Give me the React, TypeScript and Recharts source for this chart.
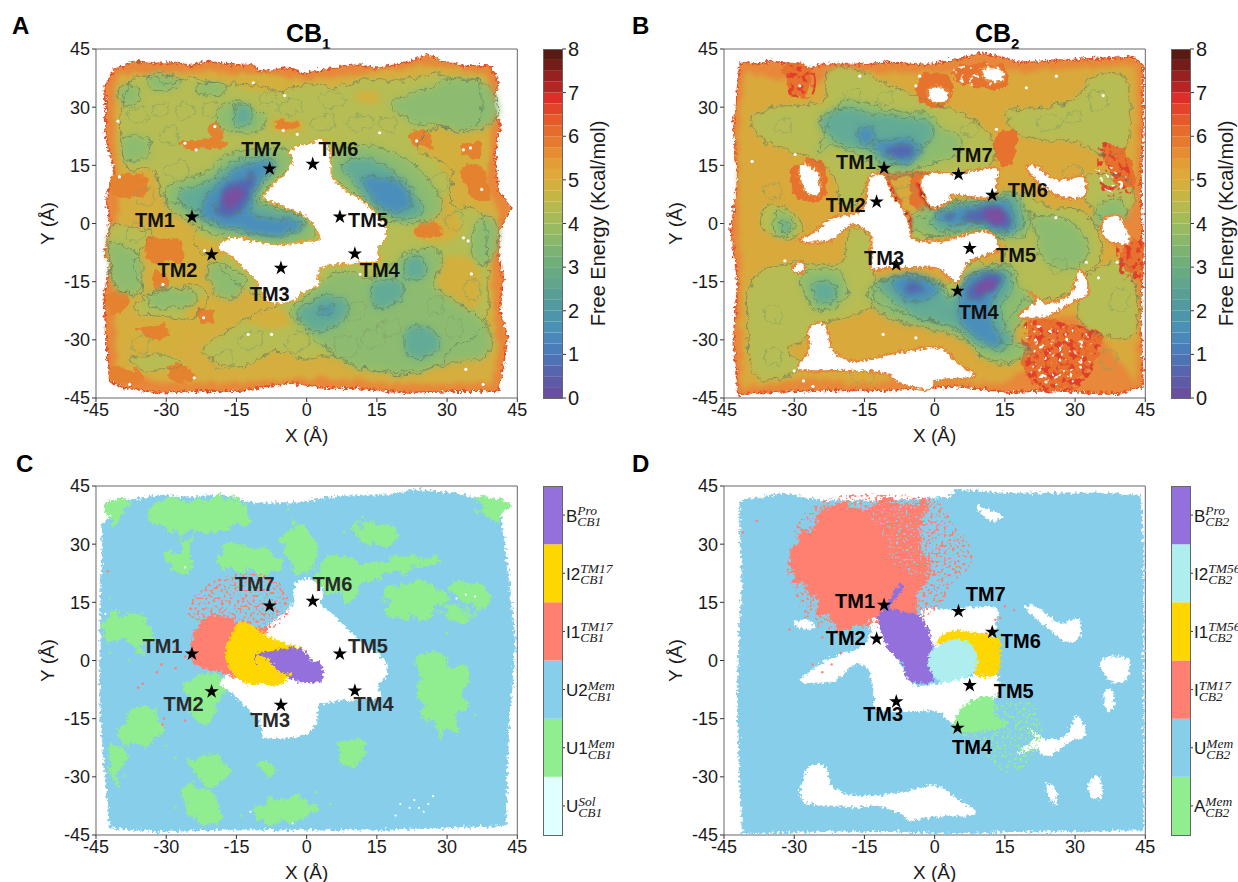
import { Bar, BarChart, ReferenceArea, Scatter, ScatterChart, XAxis, YAxis, ZAxis } from 'recharts';

type Pair = [number, number];
type Layer = { poly: Pair[]; fill: string; filter?: string; line?: string; edge?: string; edgeWidth?: number; dash?: string; sharp?: boolean };

const FONT = '"Liberation Sans", Arial, sans-serif';
const axisTicks = [-45, -30, -15, 0, 15, 30, 45];

// free energy colour levels, bottom to top of the colour bar (0 to 8 in 0.25 steps)
const levelColors = ['#68509f', '#5f5aa6', '#5665ae', '#4f72b5', '#4a7dba', '#4a88bb', '#4a91b5', '#4d96aa', '#5399a0', '#5a9f96', '#60a58c', '#68aa82', '#70af7a', '#7db372', '#8ab76a', '#98ba60', '#a6bb58', '#b5b94e', '#c5b644', '#d3b03e', '#dea83a', '#e39d37', '#e68c33', '#e67a2f', '#e66c2d', '#e45a2b', '#e34429', '#de2e27', '#b82424', '#962120', '#741c17', '#581a13'];
const levelStep = 0.25;
const energyTicks = [0, 1, 2, 3, 4, 5, 6, 7, 8];

const stateTicks = [0.5, 1.5, 2.5, 3.5, 4.5, 5.5];
const cb1States = [
  { base: 'U', sup: 'Sol', sub: 'CB1', color: '#e0ffff' },
  { base: 'U1', sup: 'Mem', sub: 'CB1', color: '#90ee90' },
  { base: 'U2', sup: 'Mem', sub: 'CB1', color: '#87ceeb' },
  { base: 'I1', sup: 'TM17', sub: 'CB1', color: '#ff8070' },
  { base: 'I2', sup: 'TM17', sub: 'CB1', color: '#ffd700' },
  { base: 'B', sup: 'Pro', sub: 'CB1', color: '#9370db' },
];
const cb2States = [
  { base: 'A', sup: 'Mem', sub: 'CB2', color: '#90ee90' },
  { base: 'U', sup: 'Mem', sub: 'CB2', color: '#87ceeb' },
  { base: 'I', sup: 'TM17', sub: 'CB2', color: '#ff8070' },
  { base: 'I1', sup: 'TM56', sub: 'CB2', color: '#ffd700' },
  { base: 'I2', sup: 'TM56', sub: 'CB2', color: '#afeeee' },
  { base: 'B', sup: 'Pro', sub: 'CB2', color: '#9370db' },
];

// helix positions
const cb1Stars: Pair[] = [[-24.5, 1.7], [-20.3, -8], [-5.5, -11.5], [10.3, -7.8], [7.1, 1.7], [1.3, 15.3], [-7.9, 14.1]];
const cb2Stars: Pair[] = [[-10.8, 14.3], [-12.4, 5.6], [-8.2, -10.6], [4.9, -17.4], [7.5, -6.4], [12.3, 7.3], [5.1, 12.7]];
const tmNames = ['TM1', 'TM2', 'TM3', 'TM4', 'TM5', 'TM6', 'TM7'];
const aLabelPos: Pair[] = [[-32.4, 0.9], [-27.6, -12.1], [-7.9, -18.3], [15.6, -12.1], [13.1, 0.9], [6.8, 19.1], [-9.7, 19.1]];
const bLabelPos: Pair[] = [[-16.8, 15.9], [-19, 4.7], [-10.8, -8.8], [9.4, -22.9], [17.4, -8.1], [19.9, 8.6], [8.1, 17.6]];
const cLabelPos: Pair[] = [[-30.8, 3.7], [-26.3, -11.3], [-7.8, -15.4], [14.3, -11.3], [13.1, 3.7], [5.5, 19.7], [-11.1, 19.7]];
const dLabelPos: Pair[] = [[-17, 15.3], [-19, 5.7], [-11, -13.9], [8, -22.4], [16.9, -7.8], [18.4, 5], [10.9, 17.1]];

// ---- panel A landscape, outlines in Angstrom
const aOuter: Pair[] = [[-41, 40], [-39, 40.5], [-37, 42], [-32, 41.2], [-27, 41.5], [-25, 40.5], [-21.5, 41.8], [-16, 41], [-11.5, 41], [-10, 39], [-3.6, 40.2], [-0.8, 38.5], [5, 40], [10, 41], [15, 40], [21.3, 41.5], [26, 43.6], [28.5, 42], [34, 40.6], [39, 40.6], [41, 36.7], [39.8, 30.7], [41.3, 25.6], [40.2, 17.8], [41, 8.4], [43.8, 4], [41, -1.9], [41, -8.8], [42, -14], [41.3, -22.6], [43, -29.5], [42, -36.4], [41, -43.2], [32, -43.2], [21.3, -43.7], [10.6, -42.4], [3.5, -42.4], [-3.6, -41], [-14.3, -43.2], [-25, -43.2], [-31.4, -43.7], [-38.6, -42.4], [-42, -40.7], [-42.8, -31.2], [-43.2, -19.2], [-42.1, -10.6], [-43.2, -8], [-42, -0.2], [-42.8, 6.6], [-41, 13.5], [-42.9, 22], [-42.9, 31.6], [-43.2, 35]];
const aYellow: Pair[] = [[-40, 38.5], [-25, 39], [-11, 38.5], [0, 37], [12, 38.5], [26, 41], [38.5, 38.5], [38.5, 30], [39.5, 25], [38.5, 8], [41, 3], [39.5, -9], [40, -23], [41, -32], [39.5, -41], [21, -41.5], [3.5, -40], [-14, -41], [-30, -41], [-40.5, -39], [-41, -19], [-40.5, 0], [-40.5, 14], [-41, 22], [-41, 35]];
const aLightMain: Pair[] = [[-38, 36], [-34, 38], [-30, 36], [-25, 37.5], [-18, 36], [-11, 36], [-6, 34], [0, 36], [6, 35], [12, 37], [20, 37], [27, 38.5], [33, 37], [37, 36], [37, 27], [33, 24], [27, 24.5], [24, 19], [31, 14], [31, 5], [37, 3], [38.5, -9], [38, -26], [31, -32], [27, -37], [14, -38], [6, -34], [0, -35], [-7, -33], [-14, -37], [-22, -33], [-12, -24], [-6, -21], [-13, -17], [-20, -10], [-24, -5], [-22, 3], [-30, 6], [-33, 14], [-38, 14], [-40, 25]];
const aLightLeft: Pair[] = [[-42, -1], [-37, -1], [-33, -3], [-37, -10], [-35, -18], [-40, -17], [-42, -10]];
const aLightLow: Pair[] = [[-35, -19], [-24, -16], [-21, -19], [-24, -24], [-30, -24], [-36, -23]];
const aLightBottom: Pair[] = [[-38, -35], [-30, -34], [-27, -37], [-34, -38]];
const aYellowPatches: Pair[][] = [
  [[27, 24], [37, 24], [38, 13], [32, 11], [28, 15]],
  [[25, 3], [30, 7], [33, -1], [29, -5], [23, -3]],
  [[29, -9], [36, -10], [37, -20], [31, -25], [28, -16]],
  [[-34, -3], [-25, -3], [-19, -5], [-18, -10], [-23, -11], [-25, -18], [-31, -19], [-33, -11]],
  [[-10, -21], [-3, -24], [-6, -27], [-13, -25]],
  [[-25, -19], [-18, -21], [-17, -27], [-25, -28]],
  [[-38, -27], [-28, -26], [-27, -31], [-33, -33]],
  [[-14, 38], [-5, 37], [-6, 34], [-13, 35]],
  [[11, 34], [15, 34], [15, 31], [11, 31.5]],
  [[-7, 27], [-1, 26], [-2, 23], [-7, 24]],
];
const aOrangePatches: Pair[][] = [
  [[-34, -4], [-31, -3.5], [-27, -5], [-26.5, -9], [-30, -10], [-34, -9]],
  [[-33, -13], [-30, -13], [-29.5, -17], [-32, -17.5]],
  [[-23, -22], [-20.5, -22], [-20, -25.5], [-23, -25]],
  [[-36, -27], [-31, -26], [-29, -28.5], [-33, -30]],
  [[-30, -37], [-26, -36.5], [-24, -40], [-28, -41]],
  [[-21, 26], [-18.5, 26], [-18, 22], [-20.5, 22.5]],
  [[-27, 21], [-19, 22], [-17, 20], [-25, 19]],
  [[22, 23], [26, 24], [26.5, 20], [23, 20]],
  [[33, 20], [37, 21], [37.5, 17], [34, 17.5]],
  [[33, 14], [38, 14], [39, 6], [35, 7]],
  [[23.4, -0.5], [27, 0.5], [29, -3], [24, -3.5]],
  [[-6.5, 26.5], [-2, 26], [-2.5, 24.5], [-6.5, 24.5]],
  [[0.6, 17.4], [5, 17.5], [4, 15], [1.5, 15]],
  [[-41.5, 12], [-34.5, 12.5], [-34.5, 7.5], [-41, 7]],
  [[-42.5, -17.5], [-38.5, -18], [-39, -22.5], [-42, -23]],
  [[-42, -37], [-36, -38], [-35, -41], [-41, -41]],
];
const aGreen: Pair[][] = [
  [[-33.5, 38.5], [-28, 38], [-27.5, 35], [-33, 34.5]],
  [[-40, 35], [-36, 35], [-36, 31], [-40, 31]],
  [[-23, 36], [-18, 36], [-18, 33], [-23, 33.3]],
  [[-18.6, 30], [-14, 31.5], [-9.4, 28], [-10, 24], [-16, 23.5], [-19, 26]],
  [[-39, 22], [-34, 22], [-34, 17], [-39, 17]],
  [[-29, 10], [-22, 13], [-16.5, 18], [-11, 19], [-4, 19], [-3, 15], [-5.7, 12], [-8.5, 8.5], [-10, 6], [-5, 4], [0, 1.5], [2, -2], [-0.5, -5], [-7.5, -6], [-15, -4], [-19, -3], [-24.5, 0], [-30, 5]],
  [[5, 17], [10, 20], [17, 19], [23, 15], [28, 8], [28, 2], [21, 0], [16, 2], [12, 6], [8, 10], [5, 13]],
  [[18, 31], [25, 34.5], [32, 37.5], [39, 35], [40.5, 27], [34, 23.5], [27, 25.5], [22, 26.5]],
  [[-41.5, -5], [-37, -7], [-35, -11], [-36, -17.5], [-40.5, -17], [-42, -11]],
  [[-33, -17.5], [-25, -17], [-24, -21], [-33, -21.5]],
  [[3.5, -14], [9, -12.5], [14, -14], [21, -8], [27, -6.5], [29, -10], [27.5, -16], [33.5, -21.5], [39, -27.5], [38.5, -34], [29, -36.5], [21, -39], [10.6, -37], [3.5, -31.5], [-0.5, -27], [-3.5, -22.6], [1, -18]],
  [[36, -0.5], [39.5, 2], [41, -5], [38, -10.5], [35.5, -7.5]],
  [[-21, -10.5], [-16, -11.5], [-13, -15], [-16, -19.5], [-20, -17]],
];
const aTeal: Pair[][] = [
  [[-1, -21.5], [3.5, -18.5], [8.5, -20], [8, -25], [2, -28], [-2, -24]],
  [[22, -27], [26, -27], [28.5, -30], [27, -34], [22, -34.5], [21, -30]],
  [[14.5, -15], [20, -15], [20.5, -19], [16, -22], [14, -19]],
  [[21.5, -9], [25, -9], [25, -14], [21, -14]],
  [[-15.5, 30], [-12, 30], [-12.5, 25.5], [-15, 25]],
  [[-27, 8.5], [-21, 11], [-15.5, 16], [-9, 17], [-6, 15], [-9, 10.5], [-10.5, 5], [-2, 2.5], [-0.5, -1], [-6, -3.5], [-15, -2], [-21.5, 0.5], [-26.5, 4.5]],
  [[7.5, 15], [13, 17], [19.5, 12.5], [24.5, 5.5], [24.5, 2.5], [19, 1.5], [14, 5], [10, 10]],
];
const aBlue: Pair[][] = [
  [[-22.5, 3.2], [-20, 9], [-15, 14], [-9, 16], [-7.5, 14.5], [-10.5, 9.5], [-11.5, 2.5], [-1.5, 0.5], [-2, -1.5], [-8.5, -3], [-16.5, -0.5], [-22, 1.5]],
  [[12, 12], [17, 11.5], [20, 10.5], [22, 7], [22, 4], [18, 3], [14, 6.5]],
  [[2, -23], [3.5, -21.5], [6, -20.5], [6, -22.5], [4, -24]],
];
const aIndigo: Pair[][] = [[[-19.5, 4], [-17, 10], [-13, 11.5], [-11.5, 13.5], [-11.5, 10], [-13.5, 4], [-16.5, 1.5], [-19, 2.5]]];
const aPurple: Pair[][] = [[[-17.5, 6.5], [-15.7, 9], [-13.6, 9], [-14.3, 5.7], [-16.4, 4]]];
const aLoops: Pair[][] = [
  [[-38, 29], [-35, 30], [-34, 27], [-37, 26]], [[-28, 30], [-25, 31], [-24, 28], [-27, 27]], [[-31, 24], [-28, 25], [-28, 21], [-31, 21]],
  [[-22, 31], [-19, 31], [-19, 28], [-22, 28]], [[-6, 31], [-2, 32], [-1, 29], [-5, 28]], [[3, 33], [7, 34], [8, 31], [4, 30]],
  [[9, 27], [13, 28], [14, 25], [10, 24]], [[16, 27], [19, 27], [19, 24], [16, 24]], [[1, 27], [5, 28], [6, 25], [2, 24]],
  [[-30, 15], [-26, 16], [-25, 12], [-29, 12]], [[-36, 8], [-33, 9], [-33, 5], [-36, 5]], [[-38, -1], [-35, 0], [-35, -4], [-38, -4]],
  [[30, 2], [33, 3], [33, -1], [30, -1]], [[34, -15], [37, -15], [37, -19], [34, -19]], [[30, -25], [33, -25], [33, -29], [30, -29]],
  [[12, -28], [16, -27], [17, -31], [13, -32]], [[6, -30], [10, -29], [11, -33], [7, -34]], [[-4, -29], [0, -28], [0, -32], [-4, -33]],
  [[-14, -29], [-10, -28], [-10, -32], [-14, -32]], [[-20, -34], [-16, -33], [-16, -37], [-20, -37]], [[-37, -30], [-34, -29], [-34, -33], [-37, -33]],
  [[9, -21], [12, -20], [12, -24], [9, -25]], [[15, -26], [19, -25], [20, -28], [16, -29]], [[26, -20], [29, -19], [29, -23], [26, -23]],
  [[27, 12], [30, 13], [30, 9], [27, 9]], [[-10, 33], [-7, 34], [-7, 31], [-10, 31]], [[-33, 30], [-30, 31], [-30, 28], [-33, 28]],
];
const aHole: Pair[] = [[-0.8, 20.4], [1.5, 21], [3.5, 21.9], [4.9, 18.7], [5.2, 14.8], [5.6, 11.8], [8.5, 8.3], [12, 5.8], [14.9, 2.3], [17, -0.3], [16.7, -4.6], [15.2, -6.3], [15.2, -9.7], [11.3, -10.2], [8.5, -10.6], [4.2, -11], [2.4, -13.2], [2.8, -15.8], [-0.8, -17.9], [-2.9, -20], [-7.9, -20.5], [-10.8, -14.9], [-14.4, -10.6], [-16.8, -8], [-19, -6.7], [-17.9, -4.6], [-15.1, -3.5], [-10.8, -4.6], [-6.5, -5.4], [-2.2, -5], [0.6, -4.6], [2.8, -3.7], [1.3, -0.3], [-0.8, 2.3], [-4.4, 4], [-8.6, 6.2], [-9, 7.5], [-6.5, 10.9], [-4.4, 13.1], [-3, 16.5], [-3.7, 18.7]];
const aSpecks: Pair[] = [[-26, 20.7], [-19.6, 25], [-23.6, 19], [-4.7, 33], [-11.4, 36.3], [15.6, 23.4], [23.5, 21.3], [33.5, 19], [35, 19.5], [37.4, 8.8], [33.5, -3.7], [34.5, -4.5], [35.2, -13], [-40, 12], [-40.3, 26.4], [-21.8, -7], [-22, -24.3], [-30.7, -15.7], [-12.5, -28.6], [-7.5, -28.6], [34, -37.6], [-24, -39.8], [-37.8, -41.5], [37.7, -41.5], [11.4, -13.1], [-5, 24], [-2, 23]];

// ---- panel B landscape
const bOuter: Pair[] = [[-41.5, 41.5], [-38, 41], [-35, 42], [-31, 41], [-27, 40], [-24, 41], [-17, 41], [-10, 41.5], [-2, 41], [4, 42], [10, 44], [14, 43], [18, 41.5], [25, 42], [35, 42.5], [42, 43], [44.5, 41], [44.5, 25], [44, 10], [44.5, -10], [44, -25], [44.5, -42], [39, -44], [25, -43], [16, -43.5], [5, -42], [-10, -43], [-25, -43], [-35, -43.5], [-42, -44], [-43, -30], [-42, -15], [-43.5, -2], [-42, 12], [-43, 25]];
const bYellow: Pair[] = [[-40.5, 39], [-33, 37], [-27, 35], [-20, 39], [-8, 39], [5, 39], [12, 39], [18, 39], [30, 40], [43, 41], [43.5, 25], [43, 11], [41, 8], [37, 8], [37, -4], [42, -10], [43.5, -22], [43, -41], [36, -30], [31, -24], [23, -24], [19, -30], [20, -37], [14, -41.5], [5, -40.5], [-5, -40], [-15, -41.5], [-28, -40], [-41, -42.5], [-41.5, -25], [-41.5, -10], [-42, 8], [-42, 25]];
const bLight: Pair[][] = [
  [[-39, 27], [-34.5, 30], [-29, 30.5], [-23.5, 32], [-23, 39], [-17, 40], [-12, 37], [-5.5, 33.5], [0, 31], [5.5, 28.5], [11, 24], [13, 19], [10.5, 13.5], [-2, 13], [-10.5, 11.5], [-14, 12], [-16.5, 5], [-20, 5], [-21.5, 12], [-25, 16], [-30.5, 18.5], [-37, 21.5]],
  [[15.5, 29], [23, 30], [30, 32], [34, 38], [41, 37], [41, 20], [35.5, 18], [30, 21], [22, 21.5], [17, 24]],
  [[-37, 1], [-35, 5], [-30, 2.5], [-28.5, -2], [-32, -4], [-36, -2]],
  [[-38.5, -14], [-30.5, -10], [-20, -10], [-18, -1], [-13, -5], [-13, -14], [-13.5, -21], [-18, -24], [-25, -26], [-28, -30], [-31.5, -33], [-28, -37], [-38, -40], [-40, -24]],
  [[-5, -1], [1, 4.5], [11, 6], [18, 8], [25, 4], [32, 3], [36, -7], [32, -13.5], [29, -18], [22, -20], [19, -20], [14, -30], [21, -33], [14, -36.5], [9, -33], [4, -27], [-5, -24], [-13, -20], [-14, -17], [-6, -13], [2, -16], [8, -10], [14, -11], [15, -5], [9, -2], [1, -3], [-5, -4]],
  [[32, 12], [37, 13], [42, 10], [42, 4], [37, 1], [33, 5]],
  [[31, -16], [37, -10], [42, -12], [43, -28], [36, -29], [31, -25]],
];
const bOrange: Pair[][] = [
  [[21, -24], [32, -27], [36, -30], [31, -40], [24, -43], [19, -37], [20, -29]],
  [[-32, 41], [-27, 40], [-27, 33], [-31, 34]],
  [[13, 22], [17, 24], [17, 17], [14, 15]],
  [[36, 20], [41, 18], [43, 9], [38, 12]],
  [[40, -6], [44, -4], [44, -12], [41, -13]],
  [[4, 40], [14, 41], [15, 35], [6, 36]],
  [[-3, 38], [3, 38], [3, 31], [-3, 31]],
  [[-30, 15], [-24, 16], [-24, 6], [-30, 7]],
  [[-11, 13], [-4, 13], [-4, 12], [-9, 11], [-9, 5], [-6, -3], [-9, 2]],
  [[-5, 12], [-1, 13], [0, 4], [-3, 3], [-5, 5]],
];
const bRed: Pair[][] = [
  [[-11, 10.5], [-9, 9], [-7, 5], [-5, 1], [-5, -2], [-6.5, 0], [-9, 3], [-11, 7]],
  [[-3.5, 11], [-2, 11], [-1.5, 7], [1, 4], [-1, 4], [-3, 7]],
];
const bDarkRed: Pair[][] = [
  [[-11, 10], [-10, 9], [-8, 5], [-6, 2], [-6.5, 1], [-9, 4]],
  [[-2.5, 10], [-2, 7], [0, 4.5], [-1, 4.5], [-2.5, 7]],
];
const bGreen: Pair[][] = [
  [[-25.2, 18], [-20, 31], [-15, 31], [-8, 29], [-1, 28], [2, 24], [6, 22], [5, 18], [-2, 15], [-6.5, 13], [-11.5, 14], [-16.5, 18], [-22, 20]],
  [[-6, 0], [-1, 4.5], [11, 7], [17, 8], [20, 3], [19.5, -3], [15.5, -4], [11, -3], [4.5, -3.5], [-1.5, -3]],
  [[-14, -17], [-7, -14], [1, -15], [4, -19], [7.5, -14], [12, -11], [17, -11.5], [18, -16], [21, -20], [17, -29], [20, -32], [16, -35.5], [11, -34.5], [4.5, -29], [-5, -26], [-12, -23]],
  [[35, 5], [39, 6], [41, 2], [37, -1], [34, 0]],
  [[-34, 3], [-31, 2], [-30, -2], [-34, -3]],
  [[-28, -13], [-21, -12], [-18.5, -18], [-24, -23], [-28, -18]],
  [[21, 2], [28, 1], [33, -6], [29, -12], [23, -9], [22, -3]],
];
const bTeal: Pair[][] = [
  [[-24.5, 26.5], [-19, 30], [-12, 28], [-3, 27], [0, 23], [-4, 18], [-8, 15], [-12, 16], [-14, 19], [-20, 20.5]],
  [[-1, 0], [2, 4], [12, 6], [17, 7], [19, 2], [18, -2], [14, -3], [10, -1], [3, -2]],
  [[-12, -16], [-8, -14], [0, -15.5], [3.5, -19], [7, -15], [12, -12], [16, -12], [16.5, -17], [14.5, -21], [15, -27], [17, -30], [14, -33], [9, -31], [4, -26.5], [-5, -23.5]],
  [[-32.5, 1], [-31, 0], [-31, -2], [-33, -2]],
  [[-26, -16], [-22, -15], [-21, -20], [-25, -20]],
];
const bBlue: Pair[][] = [
  [[-16.5, 24], [-14.5, 25], [-13, 24], [-13, 21], [-15.5, 20.5]],
  [[-13, 21], [-8, 22], [-3.5, 21], [-3, 18], [-5.5, 15.5], [-9.5, 16.5], [-12, 18.5]],
  [[0, 2], [3, 3.5], [11, 5], [15, 6], [17, 2], [16.5, -1.5], [13, -2], [9, 0.5], [4, -0.5]],
  [[-9, -15.5], [-6.5, -13], [-2, -14], [1, -17], [-0.5, -19], [-3, -20], [-7, -19]],
  [[5, -22], [6, -15], [9.5, -12.5], [14, -12.5], [14.5, -15.5], [12, -21.5], [13, -27], [14.5, -30], [12, -31.5], [8.5, -29], [5.5, -25]],
];
const bIndigo: Pair[][] = [
  [[-10, 19], [-7, 20.5], [-4.5, 19], [-6, 17.5], [-8.5, 17]],
  [[2.2, 2], [3, 3], [4, 2], [3, 1]],
  [[6, 2], [11.5, 4.5], [15, 3.5], [16, 0], [15, -1.5], [11.5, 0], [7, 0.5]],
  [[-6.5, -16.5], [-4.5, -15], [-2.5, -17], [-4, -18.5], [-6, -18]],
  [[7, -17.5], [10, -13.5], [13.5, -13], [13.5, -15.5], [10.5, -19], [8, -20]],
];
const bPurple: Pair[][] = [
  [[10, 2], [13, 4], [15, 2], [15, -0.5], [12, 0.5]],
  [[8.5, -16.5], [10.5, -14.5], [13, -14], [12.5, -16.5], [10, -18.5]],
];
const bLoops: Pair[][] = [
  [[-34, 26], [-31, 27], [-31, 24], [-34, 24]], [[-36, 10], [-33, 10], [-33, 7], [-36, 7]], [[22, 27], [26, 28], [27, 25], [23, 24]],
  [[28, 28], [31, 29], [31, 26], [28, 26]], [[33, 33], [36, 34], [37, 30], [34, 29]], [[6, 25], [9, 26], [9, 23], [6, 23]],
  [[-12, 33], [-9, 34], [-9, 31], [-12, 31]], [[-19, 34], [-16, 35], [-16, 32], [-19, 32]], [[25, -10], [28, -9], [28, -12], [25, -13]],
  [[-36, -22], [-33, -21], [-33, -25], [-36, -25]], [[-36, -33], [-33, -32], [-33, -36], [-36, -36]], [[28, 14], [31, 15], [31, 12], [28, 12]],
  [[38, -18], [41, -17], [41, -22], [38, -22]], [[36, -33], [39, -33], [39, -37], [36, -37]], [[-8, 9], [-5, 10], [-5, 7], [-8, 7]],
  [[-18, -38], [-14, -36.5], [-13, -40], [-17, -41]], [[-5, -37], [-2, -37], [-2, -40], [-5, -40]],
];
const bHoles: Pair[][] = [
  [[-14, 12], [-11, 12.5], [-9, 7.5], [-6, 2], [-4.5, -4], [1.5, -4.5], [7.5, -2.5], [11, -2], [13, -3.5], [13.5, -7], [9, -9], [7, -10.5], [5, -15], [3, -14], [0.5, -11.5], [-5, -11.5], [-10, -11.5], [-13.5, -11.5], [-13.5, -4], [-15, -1.5], [-18, -0.5], [-22.5, -4.5], [-29, -4.5], [-25.5, -2], [-22, 1.5], [-16, 3], [-14.5, 7]],
  [[-2.9, 11.5], [-0.5, 13], [5, 13], [13, 14.5], [13.4, 11.5], [12, 6.5], [3.9, 7.5], [3.5, 6], [-0.5, 4], [-2.5, 8]],
  [[19.6, 14.5], [21.7, 15], [25.3, 11.5], [28, 11.5], [32, 12], [32, 7], [28, 6.5], [25, 8], [22, 10.5]],
  [[36, 1], [39, 2], [41, -1], [41.5, -5], [38, -5], [36, -3]],
  [[18, -24], [21.5, -20], [20, -17.5], [24, -20.5], [29, -18], [31, -12], [33, -17.5], [30, -20], [25, -23.5], [22, -24.5]],
  [[-26.8, -27], [-23.5, -26], [-21.5, -33], [-16.5, -35.5], [-7, -33], [1, -32], [5, -36], [8.5, -39.5], [0.5, -40.5], [-1.5, -43], [-8, -41], [-10, -39], [-17, -38], [-28, -38], [-29, -36], [-27, -33]],
  [[-28.5, 15.5], [-25, 13.5], [-24.5, 8], [-26, 7], [-28, 9], [-29, 13]],
  [[10, 40], [14, 40], [15, 38], [14, 36.5], [11, 37]],
  [[-1, 35], [2, 35], [3, 32], [0, 31], [-1.5, 33]],
  [[-30, -10.5], [-28, -10], [-28, -12.5], [-30, -12.5]],
];
const bRedMottle: Pair[][] = [
  [[20, -25], [33, -27], [36, -31], [31, -42], [22, -43], [19, -34]],
  [[35, 20], [40, 19], [42, 8], [36, 8]],
  [[-31, 41], [-26, 40], [-26, 33], [-31, 33]],
  [[39, -5], [44, -4], [44, -14], [40, -14]],
];
const bWhiteMottle: Pair[][] = [
  [[20, -26], [32, -28], [34, -33], [30, -41], [22, -41], [20, -34]],
  [[34, 14], [40, 14], [41, 8], [36, 9]],
  [[4, 40], [14, 41], [14, 36], [5, 36]],
];
const bSpecks: Pair[] = [[-28.8, 35.5], [-16, 38], [-3.2, 38], [-4, 35.5], [19.6, 35], [-29.8, 17.8], [-39, 16], [25.9, 1.5], [32.4, -10], [13.2, 24.3], [-28, -40.6], [-32, -9.6], [-4, -29.5], [-11, -28.6], [-26, -42], [-30, -38], [39, -10], [35, -14], [36, 33], [26, 38]];

// ---- panel C clusters
const cBlue: Pair[] = [[-43.5, 35], [-41, 38], [-39, 41], [-32, 42.5], [-25, 42], [-18, 42.5], [-11.5, 40.5], [-3, 40.5], [5, 42], [12, 42.5], [18, 42.5], [23, 44], [32, 43], [41, 40.5], [42, 32], [43, 22], [44.5, 4], [43, -18], [42.5, -42.5], [18, -43.5], [-18, -43.5], [-32, -44], [-42, -43], [-44, -15], [-44, 10]];
const cHole: Pair[] = [[-2.3, 19.5], [0.8, 21], [3.5, 17.5], [2.8, 14.5], [5.3, 12], [8.5, 8], [12, 4.5], [16.7, -0.5], [16.7, -4.5], [15, -6.5], [15.3, -9.5], [9.9, -10], [2.8, -11.3], [2.1, -15.5], [-0.8, -19], [-8.8, -19.7], [-10, -15.5], [-15.7, -8.6], [-18.2, -6], [-17, -3.8], [-10.8, 6], [-4.3, 12.5], [-2.5, 15.5]];
const cSalmonHalo: Pair[] = [[-26, 13], [-22, 19], [-15, 22.5], [-8, 22], [-4.5, 18], [-4, 12], [-8, 8], [-15, 8], [-22, 9]];
const cSalmon: Pair[] = [[-22, 10.5], [-16.5, 11], [-14.3, 8.5], [-8.5, 8], [-14.3, 3.5], [-16.5, -1.7], [-15, -4.3], [-18, -3], [-22, -1.7], [-25, 1.7]];
const cYellow: Pair[] = [[-14.3, 9.6], [-10, 7.5], [-6.4, 5], [-0.8, 2.7], [-6.4, 0.5], [-4.3, -3.3], [-6.4, -5.9], [-10, -6], [-13, -5.7], [-15.7, -3], [-17.2, 2.3]];
const cPurple: Pair[] = [[-10.8, 1.4], [-7.9, 2.3], [-2.2, 3.1], [-0.1, 1.8], [1, -0.3], [2.8, -0.7], [3.2, -5], [-0.8, -5.4], [-4.3, -4.2], [-4.3, -3.5], [-8, -1.5], [-10.5, -1]];
const cYellowBits: Pair[] = [[-10.5, 0], [-8, -0.5], [-6, -2.5], [-4.3, -3.8], [-6, -5.5], [-10, -5]];
const cGreen: Pair[][] = [
  [[-33, 40.5], [-25, 41.8], [-15, 42], [-11.5, 37.5], [-13.5, 35], [-22, 34], [-30, 34.5], [-33, 37]],
  [[-42, 40.5], [-38.5, 40.5], [-40.5, 35.5], [-42, 36]],
  [[-18, 28], [-12, 30], [-6.5, 26.5], [-7, 22.5], [-15, 23], [-18, 25]],
  [[-5, 31], [-1.5, 35], [2, 29], [0.5, 23.5], [-4.3, 26]],
  [[-29, 26.5], [-25.5, 31], [-24, 24], [-28, 24]],
  [[3, 24], [6.5, 27.5], [13, 25], [21, 27], [29, 26], [21, 23.5], [13, 20.5], [10, 16.5], [4.5, 17.5], [2, 20]],
  [[10, 35], [16.5, 35], [19, 32], [16.5, 29.5], [11, 32]],
  [[16.5, 16.5], [22, 20], [29, 19], [29.5, 14], [22, 11.5], [18, 12]],
  [[32, 20], [38, 18.5], [38, 15], [33, 14.5]],
  [[30.5, 14], [34.5, 13], [34.5, 10.5], [30.5, 11]],
  [[-43, 11], [-38, 12.5], [-34, 9], [-35, 2.5], [-40, 5], [-43, 6]],
  [[24.5, 1], [29, 1.5], [29, -3], [24.5, -4.5]],
  [[26, -4], [34, -1.5], [34, -9], [32, -16], [28.5, -18.5], [24.5, -10.5]],
  [[-25, -5], [-19, -3.5], [-18, -9.5], [-21.5, -16], [-24.5, -14.5]],
  [[-37, -13], [-32.5, -12], [-31.5, -19], [-35.5, -21.5], [-40, -19]],
  [[-42, -22.5], [-39, -22.5], [-39, -27.5], [-41, -31.5]],
  [[6.5, -22.5], [11.5, -21], [11, -26], [8.5, -27]],
  [[-25, -27], [-21.5, -25], [-17, -27], [-19.5, -33]],
  [[-26, -33], [-21.5, -33], [-18, -38], [-19.5, -42.5], [-23, -41.5], [-26, -37.5]],
  [[-10, -26], [-7, -27], [-7, -29.5], [-10, -29.5]],
  [[-10, -37], [-1, -35.5], [3, -39], [-1.5, -40.5], [-9, -42]],
  [[35, 41], [41.5, 40.5], [41.5, 36.5], [39, 37.5]],
];
const cSalmonDots: Pair[] = [[-28, 3], [-31, -1], [-32, -3], [-28, -2], [-35, -6], [-36, -7], [-26, 1], [-30.5, -15], [-30.8, -16.5], [-26, -15.5], [-42.5, 23]];
const cGreenDots: Pair[] = [[-41, 7], [-38, 0], [-42, 2], [-35, -12], [-38, -16], [-30, -22], [-28, -25], [-42, 16], [8, 33], [12, 37], [19, 27], [-4, 39], [30, 7], [36, -14], [-21, -38], [-28, -38], [-14, -40], [5, -37], [2, -34]];
const cWhiteDots: Pair[] = [[23, -36], [24, -38], [26, -37], [25, -39], [27, -35], [22, -38], [19, -40], [20, -37], [32, 16], [34, 17], [36, 16.5], [-43, 12], [-3, -42], [-12, -39], [-26, 24]];

// ---- panel D clusters
const dBlue: Pair[] = [[-41.5, 41], [-32, 43], [-24, 41], [-12, 41], [-3, 41.5], [3, 42], [5, 44], [15, 43], [25, 43], [35, 43], [44, 42.5], [44.5, 30], [44.5, 10], [44.5, -10], [44.5, -30], [44.5, -43.5], [30, -44], [15, -44], [5, -44.5], [-10, -44], [-25, -44], [-41, -44.5], [-41.5, -31], [-42, -15], [-42, -5], [-41.5, 10], [-41, 20], [-41.5, 32]];
const dSalmonHalo: Pair[] = [[-31.5, 24], [-29, 36], [-22, 42], [-11, 43], [0, 41.5], [4, 35], [7, 31], [8, 25], [4, 20], [1, 14], [-3, 11], [-12, 9], [-20, 7.5], [-27, 10], [-30, 18]];
const dSalmon: Pair[] = [[-30.6, 24], [-29.5, 29], [-28.8, 33.3], [-25, 35], [-22.4, 40.2], [-16, 39], [-11, 41], [-6, 40], [-1.8, 41], [-2, 35], [-3, 30], [-1, 26], [-2, 21], [-3.9, 17], [-3.9, 12], [-9, 10.8], [-12.5, 10.5], [-18, 8.5], [-22, 10.5], [-25, 14], [-26.5, 19], [-29.5, 20.5]];
const dBlueSpeck: Pair[] = [[-14, 40], [-2, 41], [0, 31], [-1, 22], [-8, 24], [-11, 32]];
const dSalmonDots: Pair[] = [[-31, 8], [-24, 6], [-20, 2], [-24, -3], [-22, -1], [-26, -1], [13, 10.5], [15, 14], [17, 13], [-41, 33], [-38, 36], [11, 7], [14, 11]];
const dGreenHalo: Pair[] = [[3, -18], [10, -13], [15, -11], [21, -11], [23, -17], [21, -26], [16, -29], [12, -26], [9, -21]];
const dGreen: Pair[] = [[4.5, -15.5], [6.5, -11.5], [12, -9.5], [12.5, -14], [15, -16.5], [10.5, -18], [5, -18]];
const dPurple: Pair[] = [[-11.5, 12], [-7.5, 19.5], [-7, 18], [-9.5, 13.5], [-4.5, 12], [-2.5, 10.5], [-0.5, 4], [-1, -0.5], [-0.5, -5], [-5.5, -5], [-6.5, -1], [-10, 3.5], [-12, 10.5]];
const dCyan: Pair[] = [[-0.5, 2.5], [3.9, 5], [7.5, 4.5], [9, 0], [7.5, -3.5], [1.9, -5.5], [-1, -2]];
const dYellow: Pair[] = [[0.4, 4.5], [3.9, 7.5], [12.5, 6], [13.9, 4.5], [13.2, -3.5], [9, -3.5], [8.6, 0], [7, 4.5], [3.9, 5]];
const dHoles: Pair[][] = [
  [[-14, 10.5], [-11.2, 11], [-9, 3.5], [-4.7, -6], [1, -6], [12.5, -3.5], [13, -9.5], [10, -10.5], [6.5, -13], [5, -16], [3, -15.5], [0.5, -13], [-5, -13], [-9.5, -13], [-12.5, -12.5], [-13.2, -6], [-14.5, -1.5], [-17.5, -1], [-21.5, -5], [-28.5, -5.5], [-25.5, -2], [-22, 0.5], [-15.5, 3.5], [-13.5, 7]],
  [[-2.8, 12.5], [3.5, 13], [12.5, 13.5], [13, 9], [11.5, 6.5], [3.5, 7.5], [2.8, 5], [-0.6, 4]],
  [[19.5, 13.5], [22, 13.5], [26.5, 9.5], [30.5, 10.5], [31, 6], [28, 5], [24.3, 8.5]],
  [[36, 0.5], [41, 0.5], [41, -4.5], [38, -5.5], [36, -2.5]],
  [[18, -24], [21.5, -20], [20, -17.5], [24, -20.5], [28, -19.5], [30.5, -14.5], [32, -19], [28.5, -21], [24, -24.5], [21.5, -22.5]],
  [[-27, -28], [-23.5, -27.5], [-22, -32.5], [-17, -35], [-8.5, -34.5], [0, -32.5], [5, -36], [8.5, -39.5], [1, -40], [-5.5, -41], [-7, -39.5], [-12, -37.5], [-18.5, -37.5], [-28, -36]],
  [[9.5, 39.5], [14, 37.5], [12.5, 36], [10, 38]],
  [[-29.5, 10], [-26.5, 10], [-26, 8.5], [-29, 8.5]],
  [[36.5, -8], [38, -8], [38, -12.5], [36.5, -12]],
  [[24, -32], [25.5, -33], [26, -37], [24.5, -35]],
  [[33, -32], [35, -30], [35.5, -35], [33.5, -35]],
];

const toPoints = (poly: Pair[]) => poly.map(([x, y]) => ({ x, y }));
const NoDot = () => <g />;

// closed curve through the scaled vertices
function smoothPath(pts: { x: number; y: number }[]) {
  const n = pts.length;
  let d = `M${pts[0].x},${pts[0].y}`;
  for (let i = 0; i < n; i++) {
    const p0 = pts[(i - 1 + n) % n];
    const p1 = pts[i];
    const p2 = pts[(i + 1) % n];
    const p3 = pts[(i + 2) % n];
    d += ` C${p1.x + (p2.x - p0.x) / 6},${p1.y + (p2.y - p0.y) / 6} ${p2.x - (p3.x - p1.x) / 6},${p2.y - (p3.y - p1.y) / 6} ${p2.x},${p2.y}`;
  }
  return `${d} Z`;
}
const straightPath = (pts: { x: number; y: number }[]) => `M${pts.map((p) => `${p.x},${p.y}`).join(' L')} Z`;

function polygonLine(layer: Layer, outlineOnly: boolean) {
  return (p: any) => (
    <path
      d={layer.sharp ? straightPath(p.points) : smoothPath(p.points)}
      fill={outlineOnly ? 'none' : layer.fill}
      stroke={outlineOnly ? layer.line : layer.edge ?? 'none'}
      strokeWidth={outlineOnly ? 0.7 : layer.edgeWidth ?? 0.8}
      strokeDasharray={outlineOnly ? undefined : layer.dash}
      strokeLinecap="round"
      strokeLinejoin="round"
      filter={outlineOnly ? 'url(#rough)' : layer.filter ? `url(#${layer.filter})` : undefined}
    />
  );
}

const many = (polys: Pair[][], fill: string, filter?: string, line?: string): Layer[] =>
  polys.map((poly) => ({ poly, fill, filter, line }));

const LINE = '#5f7f62';
const LOOP = '#84a068';
const LIGHT = '#b6bd54';
const MIDGREEN = '#8dbc70';
const TEAL = '#63ab96';
const aLayers: Layer[] = [
  { poly: aOuter, fill: '#e8883a', edge: '#e2502a', edgeWidth: 2, dash: '3 3', filter: 'grain', sharp: true },
  { poly: aYellow, fill: '#d6ae3f', filter: 'soft2', sharp: true },
  ...many([aLightMain, aLightLeft, aLightLow, aLightBottom], LIGHT, 'soft2', LINE),
  ...many(aYellowPatches, '#d3b03e', 'soft2'),
  ...many(aOrangePatches, '#e5822f', 'rough'),
  ...many(aGreen, MIDGREEN, 'soft3', LINE),
  ...many(aTeal, TEAL, 'soft3', LINE),
  ...many(aBlue, '#4a8ebb', 'soft3', LINE),
  ...many(aIndigo, '#5368b0', 'soft2', LINE),
  ...many(aPurple, '#7a4f9f', 'soft2'),
  ...many(aLoops, 'none', undefined, LOOP),
  { poly: aHole, fill: '#ffffff', edge: '#e5a03a', edgeWidth: 1.5, filter: 'grain' },
];
const bLayers: Layer[] = [
  { poly: bOuter, fill: '#e8883a', edge: '#e2502a', edgeWidth: 2, dash: '3 3', filter: 'grain', sharp: true },
  { poly: bYellow, fill: '#d9a93c', filter: 'soft2', sharp: true },
  ...many(bLight, LIGHT, 'soft2', LINE),
  ...many(bOrange, '#e6722e', 'rough'),
  ...many(bRedMottle, '#e0402a', 'mottle'),
  ...many(bGreen, MIDGREEN, 'soft3', LINE),
  ...many(bTeal, TEAL, 'soft3', LINE),
  ...many(bBlue, '#4a8ebb', 'soft3', LINE),
  ...many(bIndigo, '#5368b0', 'soft2', LINE),
  ...many(bPurple, '#7a4f9f', 'soft2'),
  ...many(bRed, '#de2e27', 'soft1'),
  ...many(bDarkRed, '#741c17', 'soft1'),
  ...many(bLoops, 'none', undefined, LOOP),
  ...many(bWhiteMottle, '#ffffff', 'mottle2'),
  ...bHoles.map((poly) => ({ poly, fill: '#ffffff', edge: '#e5883a', edgeWidth: 2, filter: 'grain' })),
];
const BLUE = '#87ceeb';
const GREEN = '#90ee90';
const SALMON = '#ff8070';
const fuzzy = (poly: Pair[], fill: string, filter = 'grain', sharp = false): Layer => ({ poly, fill, edge: fill, edgeWidth: 2.5, dash: '1 4', filter, sharp });
const cLayers: Layer[] = [
  fuzzy(cBlue, BLUE, 'grain', true),
  ...cGreen.map((p) => fuzzy(p, GREEN, 'blobby')),
  fuzzy(cHole, '#ffffff'),
  { poly: cSalmonHalo, fill: SALMON, filter: 'speckle' },
  fuzzy(cSalmon, SALMON),
  fuzzy(cYellow, '#ffd700'),
  fuzzy(cPurple, '#9370db'),
  fuzzy(cYellowBits, '#ffd700', 'blobby'),
];
const dLayers: Layer[] = [
  fuzzy(dBlue, BLUE, 'grain', true),
  ...dHoles.map((p) => fuzzy(p, '#ffffff')),
  { poly: dSalmonHalo, fill: SALMON, filter: 'speckle' },
  fuzzy(dSalmon, SALMON, 'blobby'),
  { poly: dBlueSpeck, fill: BLUE, filter: 'sparse' },
  { poly: dGreenHalo, fill: GREEN, filter: 'speckle' },
  fuzzy(dGreen, GREEN),
  fuzzy(dPurple, '#9370db'),
  fuzzy(dYellow, '#ffd700'),
  fuzzy(dCyan, '#afeeee'),
];

const dotShape = (fill: string, r: number) => (p: any) => <circle cx={p.cx} cy={p.cy} r={r} fill={fill} />;
const labelShape = (color: string) => (p: any) => (
  <text x={p.cx} y={p.cy} textAnchor="middle" dominantBaseline="central" fontSize={20} fontWeight={700} fontFamily={FONT} fill={color}>
    {p.payload.name}
  </text>
);

// edge roughness and speckle for the filled regions
function Filters() {
  const region = { x: '-25%', y: '-25%', width: '150%', height: '150%', colorInterpolationFilters: 'sRGB' as const };
  const displaced = (
    <>
      <feTurbulence type="fractalNoise" baseFrequency="0.13" numOctaves="3" seed="4" result="n" />
      <feDisplacementMap in="SourceGraphic" in2="n" scale="10" xChannelSelector="R" yChannelSelector="G" result="d" />
    </>
  );
  const masked = (id: string, freq: string, octaves: number, seed: number, gain: number, offset: number) => (
    <filter id={id} {...region}>
      <feTurbulence type="fractalNoise" baseFrequency={freq} numOctaves={octaves} seed={seed} result="n" />
      <feColorMatrix in="n" type="matrix" values={`0 0 0 0 0  0 0 0 0 0  0 0 0 0 0  ${gain} 0 0 0 ${offset}`} result="mask" />
      <feComposite in="SourceGraphic" in2="mask" operator="in" />
    </filter>
  );
  return (
    <svg width={0} height={0} style={{ position: 'absolute' }}>
      <defs>
        <filter id="rough" {...region}>{displaced}</filter>
        {[1, 2, 3].map((s) => (
          <filter key={s} id={`soft${s}`} {...region}>
            {displaced}
            <feGaussianBlur in="d" stdDeviation={s * 1.2} />
          </filter>
        ))}
        <filter id="grain" {...region}>
          <feTurbulence type="fractalNoise" baseFrequency="0.3" numOctaves="2" seed="9" result="n" />
          <feDisplacementMap in="SourceGraphic" in2="n" scale="7" xChannelSelector="R" yChannelSelector="G" />
        </filter>
        <filter id="blobby" {...region}>
          <feTurbulence type="fractalNoise" baseFrequency="0.07" numOctaves="2" seed="2" result="n1" />
          <feDisplacementMap in="SourceGraphic" in2="n1" scale="22" xChannelSelector="R" yChannelSelector="G" result="d1" />
          <feTurbulence type="fractalNoise" baseFrequency="0.35" numOctaves="2" seed="11" result="n2" />
          <feDisplacementMap in="d1" in2="n2" scale="8" xChannelSelector="R" yChannelSelector="G" />
        </filter>
        {masked('speckle', '0.38', 1, 7, 11, -6)}
        {masked('sparse', '0.42', 1, 13, 12, -7.2)}
        {masked('mottle', '0.16', 2, 3, 8, -4.1)}
        {masked('mottle2', '0.2', 2, 8, 9, -5.6)}
      </defs>
    </svg>
  );
}

const PLOT_W = 421.3;
const PLOT_H = 349;

function Landscape({ left, top, layers, dots, stars, labels, labelColor }: any) {
  const labelData = labels.map(([x, y]: Pair, i: number) => ({ x, y, name: tmNames[i] }));
  const tick = { fontSize: 18, fill: '#1a1a1a', fontFamily: FONT };
  const rims = layers.filter((l: Layer) => l.fill === '#ffffff' && l.edge && l.edge !== '#ffffff');
  return (
    <div style={{ position: 'absolute', left: left - 80, top: top - 20 }}>
      <ScatterChart width={80 + PLOT_W + 12} height={20 + PLOT_H + 60} margin={{ top: 20, right: 12, bottom: 10, left: 40 }}>
        <XAxis
          type="number"
          dataKey="x"
          domain={[-45, 45]}
          ticks={axisTicks}
          interval={0}
          tick={tick}
          tickSize={4}
          tickMargin={1}
          height={50}
          axisLine={false}
          stroke="#333"
          label={{ value: 'X (Å)', position: 'insideBottom', offset: 6, style: { fontSize: 19, fill: '#1a1a1a', fontFamily: FONT } }}
        />
        <YAxis
          type="number"
          dataKey="y"
          domain={[-45, 45]}
          ticks={axisTicks}
          interval={0}
          tick={tick}
          tickSize={4}
          tickMargin={2}
          width={40}
          axisLine={false}
          stroke="#333"
          label={{ value: 'Y (Å)', angle: -90, position: 'insideLeft', offset: -9, style: { fontSize: 19, fill: '#1a1a1a', fontFamily: FONT, textAnchor: 'middle' } }}
        />
        <ZAxis range={[42, 42]} />
        {layers.map((layer: Layer, i: number) => (
          <Scatter key={`f${i}`} data={toPoints(layer.poly)} isAnimationActive={false} shape={NoDot} line={polygonLine(layer, false)} />
        ))}
        {layers.filter((l: Layer) => l.line).map((layer: Layer, i: number) => (
          <Scatter key={`o${i}`} data={toPoints(layer.poly)} isAnimationActive={false} shape={NoDot} line={polygonLine(layer, true)} />
        ))}
        {rims.map((layer: Layer, i: number) => (
          <Scatter key={`h${i}`} data={toPoints(layer.poly)} isAnimationActive={false} shape={NoDot} line={polygonLine(layer, false)} />
        ))}
        {dots.map((d: any, i: number) => (
          <Scatter key={`d${i}`} data={toPoints(d.points)} isAnimationActive={false} shape={dotShape(d.color, d.r)} />
        ))}
        <Scatter data={toPoints(stars)} isAnimationActive={false} shape="star" fill="#000000" />
        <Scatter data={labelData} isAnimationActive={false} shape={labelShape(labelColor)} />
        <ReferenceArea x1={-45} x2={45} y1={-45} y2={45} fill="none" stroke="#666" strokeWidth={1} />
      </ScatterChart>
    </div>
  );
}

const levelRow = [Object.fromEntries(levelColors.map((_, i) => [`l${i}`, levelStep]))];

function EnergyBar({ left, top }: any) {
  const barW = 19;
  const axisW = 66;
  return (
    <div style={{ position: 'absolute', left, top: top - 12 }}>
      <BarChart width={barW + axisW} height={PLOT_H + 24} data={levelRow} margin={{ top: 12, right: 0, bottom: 12, left: 0 }} barCategoryGap={0}>
        <XAxis hide type="category" />
        <YAxis
          orientation="right"
          type="number"
          domain={[0, 8]}
          ticks={energyTicks}
          interval={0}
          width={axisW}
          axisLine={false}
          stroke="#333"
          tickSize={4}
          tickMargin={2}
          tick={{ fontSize: 20, fill: '#1a1a1a', fontFamily: FONT }}
          label={{ value: 'Free Energy (Kcal/mol)', angle: -90, position: 'insideRight', offset: 0, dx: -30, style: { fontSize: 20, fill: '#1a1a1a', fontFamily: FONT, textAnchor: 'middle' } }}
        />
        {levelColors.map((c, i) => (
          <Bar key={c} dataKey={`l${i}`} stackId="a" fill={c} isAnimationActive={false} />
        ))}
      </BarChart>
      <div style={{ position: 'absolute', left: 0, top: 12, width: barW - 1, height: PLOT_H - 1, border: '1px solid #666' }} />
    </div>
  );
}

const charWidth = (c: string) => (c === 'I' ? 4.7 : /\d/.test(c) ? 9.5 : c === 'U' ? 12.3 : 11.3);
const baseWidth = (base: string) => base.split('').reduce((w, c) => w + charWidth(c), 0);

function StateTick({ x, y, payload, states }: any) {
  const s = states[stateTicks.indexOf(payload.value)];
  const mathFont = '"Liberation Serif", serif';
  const sx = x + baseWidth(s.base);
  return (
    <g>
      <text x={x} y={y + 6.5} fontSize={17} fontFamily={FONT} fill="#1a1a1a">{s.base}</text>
      <text x={sx} y={y} fontSize={13.5} fontFamily={mathFont} fontStyle="italic" fill="#222">{s.sup}</text>
      <text x={sx} y={y + 11} fontSize={13.5} fontFamily={mathFont} fontStyle="italic" fill="#222">{s.sub}</text>
    </g>
  );
}

function StateBar({ left, top, states, axisWidth }: any) {
  const barW = 19;
  const row = [Object.fromEntries(states.map((s: any) => [s.base + s.sup, 1]))];
  return (
    <div style={{ position: 'absolute', left, top }}>
      <BarChart width={barW + axisWidth} height={PLOT_H} data={row} margin={{ top: 0, right: 0, bottom: 0, left: 0 }} barCategoryGap={0}>
        <XAxis hide type="category" />
        <YAxis
          orientation="right"
          type="number"
          domain={[0, 6]}
          ticks={stateTicks}
          interval={0}
          width={axisWidth}
          axisLine={false}
          stroke="#333"
          tickSize={3}
          tickMargin={1}
          tick={(p: any) => <StateTick {...p} states={states} />}
        />
        {states.map((s: any) => (
          <Bar key={s.base + s.sup} dataKey={s.base + s.sup} stackId="a" fill={s.color} isAnimationActive={false} />
        ))}
      </BarChart>
      <div style={{ position: 'absolute', left: 0, top: 0, width: barW - 1, height: PLOT_H - 1, border: '1px solid #666' }} />
    </div>
  );
}

function Letter({ x, y, text }: any) {
  return <div style={{ position: 'absolute', left: x, top: y, fontFamily: FONT, fontWeight: 700, fontSize: 24, lineHeight: '24px', color: '#000' }}>{text}</div>;
}

function Title({ x, digit }: any) {
  return (
    <div style={{ position: 'absolute', left: x, top: 19, fontFamily: FONT, fontWeight: 700, fontSize: 25, lineHeight: '28px', color: '#000' }}>
      CB<span style={{ fontSize: 15, position: 'relative', top: 7 }}>{digit}</span>
    </div>
  );
}

export default function App() {
  return (
    <div style={{ position: 'absolute', left: 0, top: 0, width: 1238, height: 882, overflow: 'hidden', background: '#fff' }}>
      <Filters />
      <Letter x={12} y={14} text="A" />
      <Letter x={632} y={14} text="B" />
      <Letter x={16} y={452} text="C" />
      <Letter x={632} y={452} text="D" />
      <Title x={286} digit="1" />
      <Title x={975} digit="2" />
      <Landscape left={96.3} top={48.7} layers={aLayers} stars={cb1Stars} labels={aLabelPos} labelColor="#111" dots={[{ points: aSpecks, color: '#fff', r: 1.6 }]} />
      <Landscape left={724} top={48.7} layers={bLayers} stars={cb2Stars} labels={bLabelPos} labelColor="#111" dots={[{ points: bSpecks, color: '#fff', r: 1.6 }]} />
      <Landscape
        left={96.3}
        top={486}
        layers={cLayers}
        stars={cb1Stars}
        labels={cLabelPos}
        labelColor="#2a2a2a"
        dots={[
          { points: cSalmonDots, color: SALMON, r: 1.3 },
          { points: cGreenDots, color: GREEN, r: 1.3 },
          { points: cWhiteDots, color: '#fff', r: 1.1 },
        ]}
      />
      <Landscape
        left={724}
        top={486}
        layers={dLayers}
        stars={cb2Stars}
        labels={dLabelPos}
        labelColor="#000"
        dots={[{ points: dSalmonDots, color: SALMON, r: 1.2 }]}
      />
      <EnergyBar left={542.5} top={48.7} />
      <EnergyBar left={1171} top={48.7} />
      <StateBar left={542.5} top={486} states={cb1States} axisWidth={70} />
      <StateBar left={1171} top={486} states={cb2States} axisWidth={48} />
    </div>
  );
}
